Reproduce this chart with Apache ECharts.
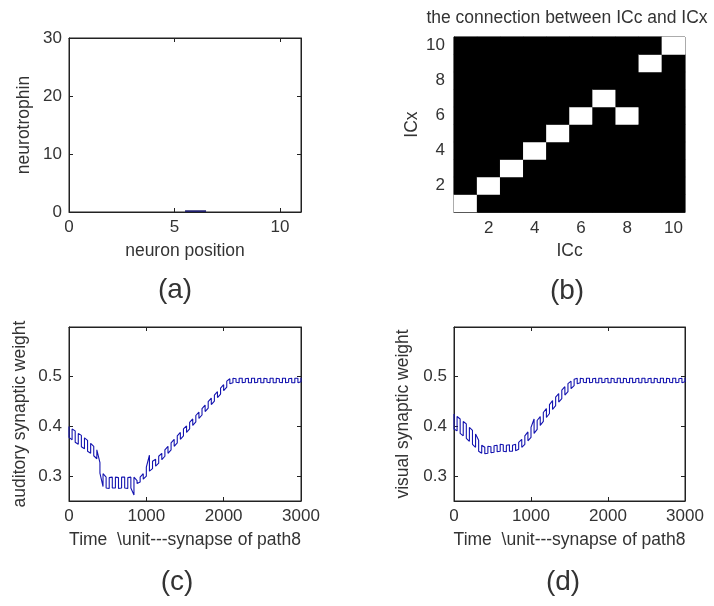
<!DOCTYPE html>
<html><head><meta charset="utf-8">
<script src="https://cdn.jsdelivr.net/npm/echarts@6/dist/echarts.min.js"></script>
<style>html,body{margin:0;padding:0;background:#fff}#c{width:714px;height:606px}</style>
</head><body><div id="c"></div>
<script>
// ---- panel (a) ----
const aPosition = [6];
const aNeurotrophin = [0.3];
const aXTicks = [0, 5, 10];
const aYTicks = [0, 10, 20, 30];
// ---- panel (b) ----
const iccCells = [1, 2, 3, 4, 5, 6, 7, 8, 9, 10];
const icxCells = [1, 2, 3, 4, 5, 6, 7, 8, 9, 10];
const icxConnected = [1, 2, 3, 4, 5, 6, 7, 6, 9, 10];
// ---- panels (c), (d) ----
const timeSteps = [0,40,80,120,160,200,240,280,320,360,400,440,480,520,560,600,640,680,720,760,800,840,880,920,960,1000,1040,1080,1120,1160,1200,1240,1280,1320,1360,1400,1440,1480,1520,1560,1600,1640,1680,1720,1760,1800,1840,1880,1920,1960,2000,2040,2080,2120,2160,2200,2240,2280,2320,2360,2400,2440,2480,2520,2560,2600,2640,2680,2720,2760,2800,2840,2880,2920,2960,3000];
const audHigh = [0.400,0.395,0.391,0.386,0.382,0.377,0.372,0.366,0.360,0.353,0.327,0.305,0.298,0.297,0.298,0.298,0.297,0.298,0.298,0.297,0.298,0.298,0.291,0.298,0.305,0.318,0.342,0.330,0.334,0.340,0.346,0.353,0.360,0.367,0.374,0.381,0.388,0.395,0.401,0.408,0.415,0.422,0.429,0.436,0.443,0.450,0.457,0.463,0.470,0.477,0.484,0.491,0.496,0.497,0.496,0.497,0.497,0.496,0.497,0.497,0.497,0.496,0.497,0.497,0.496,0.497,0.497,0.497,0.496,0.497,0.497,0.496,0.497,0.497,0.497,0.498];
const audLow = [0.378,0.373,0.368,0.364,0.359,0.355,0.350,0.346,0.341,0.335,0.306,0.279,0.276,0.275,0.276,0.276,0.275,0.276,0.276,0.275,0.276,0.262,0.285,0.288,0.294,0.300,0.310,0.315,0.320,0.326,0.333,0.340,0.346,0.353,0.360,0.367,0.374,0.381,0.388,0.395,0.402,0.409,0.416,0.423,0.430,0.437,0.444,0.451,0.458,0.465,0.472,0.479,0.486,0.488,0.489,0.488,0.488,0.489,0.488,0.488,0.488,0.489,0.488,0.488,0.489,0.488,0.488,0.488,0.489,0.488,0.488,0.489,0.488,0.488,0.488,0.490];
const visHigh = [0.425,0.420,0.415,0.410,0.405,0.398,0.392,0.385,0.372,0.362,0.358,0.360,0.359,0.361,0.362,0.364,0.363,0.362,0.363,0.362,0.364,0.368,0.374,0.381,0.389,0.398,0.415,0.412,0.420,0.428,0.436,0.444,0.452,0.459,0.466,0.473,0.480,0.486,0.491,0.495,0.497,0.497,0.496,0.497,0.497,0.496,0.497,0.497,0.497,0.496,0.497,0.497,0.496,0.497,0.497,0.497,0.496,0.497,0.497,0.496,0.497,0.497,0.497,0.496,0.497,0.497,0.496,0.497,0.497,0.497,0.496,0.497,0.497,0.496,0.497,0.498];
const visLow = [0.395,0.391,0.386,0.381,0.376,0.370,0.364,0.358,0.350,0.346,0.345,0.346,0.347,0.348,0.349,0.350,0.350,0.349,0.350,0.350,0.351,0.354,0.358,0.364,0.371,0.378,0.386,0.394,0.402,0.410,0.418,0.426,0.434,0.442,0.449,0.456,0.463,0.470,0.476,0.482,0.486,0.488,0.489,0.488,0.488,0.489,0.488,0.488,0.488,0.489,0.488,0.488,0.489,0.488,0.488,0.488,0.489,0.488,0.488,0.489,0.488,0.488,0.488,0.489,0.488,0.488,0.489,0.488,0.488,0.488,0.489,0.488,0.488,0.489,0.488,0.490];
const timeTicks = [0, 1000, 2000, 3000];
const weightTicks = [0.3, 0.4, 0.5];

const FONT = "'Liberation Sans', Arial, sans-serif";
const TXT = '#333';
const LINE = '#222';
const TICK_FS = 17;
const NAME_FS = 17.5;

// ladder trace: alternates between upper and lower values at each step
function ladder(high, low) {
  const out = [];
  for (let i = 0; i < timeSteps.length; i++) {
    if (i % 2 === 0) {
      out.push([timeSteps[i], high[i]]);
      out.push([timeSteps[i], low[i]]);
    } else {
      out.push([timeSteps[i], low[i]]);
      out.push([timeSteps[i], high[i]]);
    }
  }
  return out;
}
const heatData = [];
for (let i = 0; i < iccCells.length; i++) {
  for (let j = 0; j < icxCells.length; j++) {
    heatData.push([i, j, icxConnected[i] === icxCells[j] ? 1 : 0]);
  }
}

function valAxis(gridIndex, pos, min, max, ticks, showLabel, name, nameGap) {
  return {
    type: 'value', gridIndex, position: pos, min, max,
    name: name || '', nameLocation: 'middle', nameGap: nameGap || 0,
    nameTextStyle: { fontFamily: FONT, fontSize: NAME_FS, color: TXT },
    axisLine: { show: true, onZero: false, lineStyle: { color: LINE, width: 1 } },
    axisTick: { show: true, inside: true, length: 4, customValues: ticks, lineStyle: { color: LINE } },
    axisLabel: { show: showLabel, customValues: ticks, fontFamily: FONT, fontSize: TICK_FS, color: TXT, margin: 7,
      formatter: (v) => String(v) },
    splitLine: { show: false }
  };
}

const option = {
  animation: false,
  backgroundColor: '#fff',
  grid: [
    { left: 69, top: 38, width: 232, height: 174, show: true, borderColor: LINE, borderWidth: 1 },
    { left: 454, top: 37, width: 231, height: 175, show: true, borderColor: LINE, borderWidth: 1, backgroundColor: '#000' },
    { left: 69, top: 327, width: 232, height: 174, show: true, borderColor: LINE, borderWidth: 1 },
    { left: 454, top: 327, width: 231, height: 174, show: true, borderColor: LINE, borderWidth: 1 }
  ],
  xAxis: [
    valAxis(0, 'bottom', 0, 11, aXTicks, true, 'neuron position', 30),
    valAxis(0, 'top', 0, 11, aXTicks, false),
    {
      type: 'category', gridIndex: 1, data: iccCells, position: 'bottom',
      name: 'ICc', nameLocation: 'middle', nameGap: 30,
      nameTextStyle: { fontFamily: FONT, fontSize: NAME_FS, color: TXT },
      axisLine: { show: true, lineStyle: { color: LINE } },
      axisTick: { show: false },
      axisLabel: { interval: (idx) => idx % 2 === 1, fontFamily: FONT, fontSize: TICK_FS, color: TXT, margin: 8 },
      splitLine: { show: false }, splitArea: { show: false }
    },
    valAxis(2, 'bottom', 0, 3000, timeTicks, true, 'Time  \\unit---synapse of path8', 30),
    valAxis(2, 'top', 0, 3000, timeTicks, false),
    valAxis(3, 'bottom', 0, 3000, timeTicks, true, 'Time  \\unit---synapse of path8', 30),
    valAxis(3, 'top', 0, 3000, timeTicks, false)
  ],
  yAxis: [
    valAxis(0, 'left', 0, 30, aYTicks, true, 'neurotrophin', 36),
    valAxis(0, 'right', 0, 30, aYTicks, false),
    {
      type: 'category', gridIndex: 1, data: icxCells, position: 'left',
      name: 'ICx', nameLocation: 'middle', nameGap: 33,
      nameTextStyle: { fontFamily: FONT, fontSize: NAME_FS, color: TXT },
      axisLine: { show: true, lineStyle: { color: LINE } },
      axisTick: { show: false },
      axisLabel: { interval: (idx) => idx % 2 === 1, fontFamily: FONT, fontSize: TICK_FS, color: TXT, margin: 9 },
      splitLine: { show: false }, splitArea: { show: false }
    },
    valAxis(2, 'left', 0.25, 0.6, weightTicks, true, 'auditory synaptic weight', 40),
    valAxis(2, 'right', 0.25, 0.6, weightTicks, false),
    valAxis(3, 'left', 0.25, 0.6, weightTicks, true, 'visual synaptic weight', 42),
    valAxis(3, 'right', 0.25, 0.6, weightTicks, false)
  ],
  visualMap: {
    show: false, type: 'continuous', min: 0, max: 1, seriesIndex: 1,
    inRange: { color: ['#000000', '#ffffff'] }
  },
  series: [
    {
      type: 'bar', xAxisIndex: 0, yAxisIndex: 0, barWidth: 21,
      data: aPosition.map((p, i) => [p, aNeurotrophin[i]]),
      itemStyle: { color: '#20206e' }
    },
    {
      type: 'heatmap', xAxisIndex: 2, yAxisIndex: 2, data: heatData,
      itemStyle: { borderWidth: 0 }
    },
    {
      type: 'line', xAxisIndex: 3, yAxisIndex: 3, data: ladder(audHigh, audLow),
      showSymbol: false, lineStyle: { color: '#1414b0', width: 1.1 }
    },
    {
      type: 'line', xAxisIndex: 5, yAxisIndex: 5, data: ladder(visHigh, visLow),
      showSymbol: false, lineStyle: { color: '#1414b0', width: 1.1 }
    }
  ],
  graphic: [
    { type: 'text', x: 567, y: 18, style: { text: 'the connection between ICc and ICx', font: NAME_FS + "px " + FONT, fill: TXT, textAlign: 'center', textVerticalAlign: 'middle' } },
    { type: 'text', x: 175, y: 290, style: { text: '(a)', font: "28px " + FONT, fill: TXT, textAlign: 'center', textVerticalAlign: 'middle' } },
    { type: 'text', x: 567, y: 291, style: { text: '(b)', font: "28px " + FONT, fill: TXT, textAlign: 'center', textVerticalAlign: 'middle' } },
    { type: 'text', x: 177, y: 582, style: { text: '(c)', font: "28px " + FONT, fill: TXT, textAlign: 'center', textVerticalAlign: 'middle' } },
    { type: 'text', x: 563, y: 582, style: { text: '(d)', font: "28px " + FONT, fill: TXT, textAlign: 'center', textVerticalAlign: 'middle' } }
  ]
};
const chart = echarts.init(document.getElementById('c'), null, { renderer: 'canvas' });
chart.setOption(option);
</script>
</body></html>
